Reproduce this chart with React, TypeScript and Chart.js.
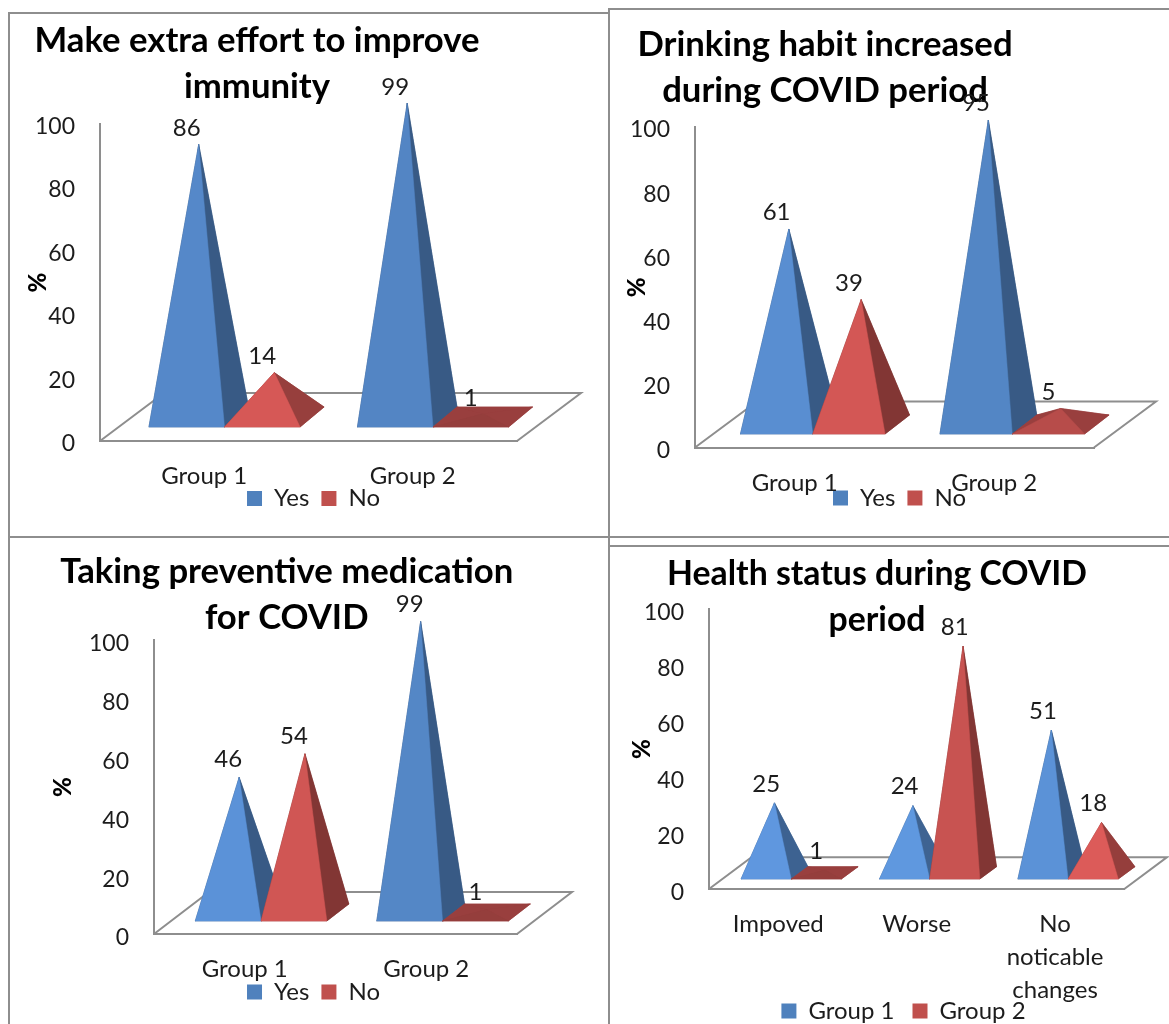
import React, { useEffect, useRef } from "react";
import { Chart, BarController, registerables } from "chart.js";

// Survey results, in percent
const groupLabels = ["Group 1", "Group 2"];
const yesNoLabels = ["Yes", "No"];
const groupSeriesLabels = ["Group 1", "Group 2"];
const statusLabels = ["Impoved", "Worse", ["No", "noticable", "changes"]];

const immunityYes = [86, 99];
const immunityNo = [14, 1];
const drinkingYes = [61, 95];
const drinkingNo = [39, 5];
const medicationYes = [46, 99];
const medicationNo = [54, 1];
const statusGroup1 = [25, 24, 51];
const statusGroup2 = [1, 81, 18];

const immunityTitle = ["Make extra effort to improve", "immunity"];
const drinkingTitle = ["Drinking habit increased", "during COVID period"];
const medicationTitle = ["Taking preventive medication", "for COVID"];
const statusTitle = ["Health status during COVID", "period"];

const yTicks = { min: 0, max: 100, step: 20 };

const FONT = "Lato";
const BLUE = "#5385c4";
const RED = "#bf4f4d";
const LEGEND_BLUE = "#4f81bd";
const LEGEND_RED = "#c0504d";
const LINE = "#8e8e8e";
const INK = "#1c1c1c";

type Rgb = [number, number, number];
const parseHex = (c: string): Rgb => [
  parseInt(c.slice(1, 3), 16),
  parseInt(c.slice(3, 5), 16),
  parseInt(c.slice(5, 7), 16),
];
const scaled = (c: string, k: number) => {
  const [r, g, b] = parseHex(c);
  const f = (v: number) => Math.min(255, Math.round(v * k));
  return `rgb(${f(r)},${f(g)},${f(b)})`;
};

// Faces catch less light when the pyramid is nearly flat or very steep.
const frontLight = (h: number) => {
  if (h <= 3.5) return 0.78;
  if (h < 16) return 0.78 + ((h - 3.5) / 12.5) * 0.18;
  if (h < 50) return 0.96 + ((h - 16) / 34) * 0.19;
  return Math.max(1, 1.15 - ((h - 50) / 263) * 0.15);
};
const sideLight = (h: number) => 0.68 + 0.12 * Math.max(0, Math.min(1, (100 - h) / 60));

// Bar controller that paints each bar as a pyramid standing on a perspective floor.
class PyramidController extends BarController {
  static id = "pyramid";

  draw() {
    // Datasets are painted back to front by hand, so later series overlap earlier ones.
    if (this.index !== 0) return;
    const chart = this.chart;
    const ctx = chart.ctx;
    const g = chart.options.plugins.floor;
    const poly = (pts: number[][], fill: string) => {
      ctx.beginPath();
      pts.forEach(([x, y], i) => (i ? ctx.lineTo(x, y) : ctx.moveTo(x, y)));
      ctx.closePath();
      ctx.fillStyle = fill;
      ctx.strokeStyle = fill;
      ctx.lineWidth = 0.5;
      ctx.fill();
      ctx.stroke();
    };
    ctx.save();
    chart.data.datasets.forEach((ds: any, di: number) => {
      const meta = chart.getDatasetMeta(di);
      meta.data.forEach((bar: any) => {
        const { x, y, base, width } = bar.getProps(["x", "y", "base", "width"], true);
        const left = x - width / 2 + g.frontDx;
        const right = x + width / 2 + g.frontDx;
        const fy = base - g.frontDy;
        const by = base - g.backDy;
        const bdx = g.backDx - g.frontDx;
        const apexX = x + (g.frontDx + g.backDx) / 2;
        const apexY = y - (g.frontDy + g.backDy) / 2;
        const h = base - y;
        const color = ds.faceColor;
        const fl = [left, fy];
        const fr = [right, fy];
        const bl = [left + bdx, by];
        const br = [right + bdx, by];
        const apex = [apexX, apexY];
        const side = scaled(color, sideLight(h));
        poly([fl, fr, br, bl], side);
        poly([fl, bl, apex], side);
        poly([bl, br, apex], side);
        poly([fr, br, apex], side);
        poly([fl, fr, apex], scaled(color, frontLight(h)));
      });
    });
    ctx.fillStyle = INK;
    ctx.font = `24px ${FONT}`;
    ctx.textAlign = "center";
    ctx.textBaseline = "middle";
    chart.data.datasets.forEach((ds: any, di: number) => {
      chart.getDatasetMeta(di).data.forEach((bar: any, i: number) => {
        const { x, y } = bar.getProps(["x", "y"], true);
        const apexY = y - (g.frontDy + g.backDy) / 2;
        ctx.fillText(String(ds.data[i]), x + g.frontDx, apexY - g.labelGap);
      });
    });
    ctx.restore();
  }
}

// Draws the floor outline and moves the title and legend to their slots.
const floorPlugin = {
  id: "floor",
  afterLayout(chart: any, _args: any, opts: any) {
    const t = chart.titleBlock;
    const lh = opts.titleLine;
    t.left = opts.titleX - 300;
    t.right = opts.titleX + 300;
    t.top = opts.titleY - lh / 2;
    t.bottom = t.top + lh * 2;
    const l = chart.legend;
    const w = l.width;
    const h = l.height;
    l.left = opts.legendX - w / 2;
    l.right = l.left + w;
    l.top = opts.legendY - h / 2;
    l.bottom = l.top + h;
    // Multi-line category labels may run past the slot reserved for the axis.
    chart.scales.x.bottom = chart.height;
  },
  beforeDatasetsDraw(chart: any, _args: any, opts: any) {
    const { left, right, bottom } = chart.chartArea;
    const ctx = chart.ctx;
    ctx.save();
    ctx.strokeStyle = LINE;
    ctx.lineWidth = 2;
    ctx.beginPath();
    ctx.moveTo(left, bottom);
    ctx.lineTo(left + opts.depthX, bottom - opts.depthY);
    ctx.lineTo(right + opts.depthX, bottom - opts.depthY);
    ctx.lineTo(right, bottom);
    ctx.stroke();
    ctx.restore();
  },
};

Chart.register(...registerables, PyramidController, floorPlugin);

type PanelGeometry = {
  box: number[];
  plot: number[];
  depth: number[];
  front: number[];
  back: number[];
  title: number[];
  titleSize: number;
  legend: number[];
  legendGap: number;
  percentX: number;
  labelGap: number;
  tickShift: number;
};

const immunityLayout: PanelGeometry = {
  box: [9, 14, 598, 522],
  plot: [100, 517, 124, 441],
  depth: [64, 48],
  front: [20.25, 14],
  back: [44.25, 34],
  title: [257, 41],
  titleSize: 34.7,
  legend: [313.5, 497.5],
  legendGap: 12,
  percentX: 38,
  labelGap: 16,
  tickShift: 2.5,
};
const drinkingLayout: PanelGeometry = {
  box: [609, 9, 560, 527],
  plot: [695, 1094, 127, 447.5],
  depth: [62, 46],
  front: [18, 13.5],
  back: [42.5, 32.5],
  title: [825, 45],
  titleSize: 34.7,
  legend: [899.5, 497],
  legendGap: 12,
  percentX: 637,
  labelGap: 16.5,
  tickShift: 3,
};
const medicationLayout: PanelGeometry = {
  box: [9, 538, 598, 486],
  plot: [154, 517, 640, 934],
  depth: [55, 42],
  front: [16.3, 13],
  back: [38.3, 30],
  title: [286.7, 572],
  titleSize: 34.7,
  legend: [313.5, 991],
  legendGap: 12,
  percentX: 63,
  labelGap: 17.5,
  tickShift: 4,
};
const statusLayout: PanelGeometry = {
  box: [609, 546, 560, 478],
  plot: [709, 1124.3, 609, 889],
  depth: [42.5, 31.7],
  front: [13, 10],
  back: [29.7, 22.3],
  title: [877, 574],
  titleSize: 33.8,
  legend: [903.5, 1007],
  legendGap: 18,
  percentX: 642.5,
  labelGap: 19,
  tickShift: 4,
};

const TITLE_LINE = 46;

function PyramidPanel({ geometry, title, categories, seriesNames, first, second }: any) {
  const ref = useRef<HTMLCanvasElement>(null);
  const [bx, by, bw, bh] = geometry.box;
  const [pl, pr, pt, pb] = geometry.plot;

  useEffect(() => {
    const chart = new Chart(ref.current as HTMLCanvasElement, {
      type: "pyramid" as any,
      data: {
        labels: categories,
        datasets: [
          { label: seriesNames[0], data: first, backgroundColor: LEGEND_BLUE, faceColor: BLUE, clip: false },
          { label: seriesNames[1], data: second, backgroundColor: LEGEND_RED, faceColor: RED, clip: false },
        ] as any,
      },
      options: {
        responsive: false,
        animation: false,
        events: [],
        categoryPercentage: 0.725,
        barPercentage: 1,
        layout: { padding: { top: pt - by, left: 0, right: bx + bw - pr, bottom: 0 } },
        scales: {
          x: {
            type: "category",
            offset: true,
            grid: { display: false, drawTicks: false },
            border: { display: true, color: LINE, width: 2 },
            ticks: {
              color: INK,
              autoSkip: false,
              maxRotation: 0,
              padding: 19,
              font: { family: FONT, size: 24, lineHeight: 33 / 24 },
            },
            afterFit: (s: any) => {
              s.height = by + bh - pb - s.chart.legend.height;
            },
          },
          y: {
            min: yTicks.min,
            max: yTicks.max,
            grid: { display: false, drawTicks: false },
            border: { display: true, color: LINE, width: 2 },
            ticks: {
              stepSize: yTicks.step,
              color: INK,
              padding: 25,
              labelOffset: geometry.tickShift,
              font: { family: FONT, size: 23 },
            },
            title: {
              display: true,
              text: "%",
              color: "#000000",
              font: { family: FONT, size: 24, weight: "900" },
              padding: { top: geometry.percentX - bx - 14.4, bottom: 0 },
            },
            afterFit: (s: any) => {
              s.width = pl - bx;
            },
          },
        },
        plugins: {
          title: {
            display: true,
            text: title,
            color: "#000000",
            font: {
              family: FONT,
              size: geometry.titleSize,
              weight: "bold",
              lineHeight: TITLE_LINE / geometry.titleSize,
            },
            padding: { top: 0, bottom: -2 * TITLE_LINE },
          },
          legend: {
            display: true,
            position: "bottom",
            labels: {
              color: INK,
              boxWidth: 15,
              boxHeight: 15,
              padding: geometry.legendGap,
              font: { family: FONT, size: 24 },
            },
          },
          tooltip: { enabled: false },
          floor: {
            depthX: geometry.depth[0],
            depthY: geometry.depth[1],
            frontDx: geometry.front[0],
            frontDy: geometry.front[1],
            backDx: geometry.back[0],
            backDy: geometry.back[1],
            labelGap: geometry.labelGap,
            titleX: geometry.title[0] - bx,
            titleY: geometry.title[1] - by,
            titleLine: TITLE_LINE,
            legendX: geometry.legend[0] - bx,
            legendY: geometry.legend[1] - by,
          },
        } as any,
      } as any,
    });
    return () => chart.destroy();
  }, []);

  return (
    <canvas
      ref={ref}
      width={bw}
      height={bh}
      style={{ position: "absolute", left: bx, top: by, width: bw, height: bh, display: "block" }}
    />
  );
}

const rule = (left: number, top: number, width: number, height: number) => (
  <div style={{ position: "absolute", left, top, width, height, background: LINE }} />
);

export default function App() {
  return (
    <div
      style={{
        position: "absolute",
        left: 0,
        top: 0,
        width: 1169,
        height: 1024,
        overflow: "hidden",
        background: "#ffffff",
      }}
    >
      <PyramidPanel
        geometry={immunityLayout}
        title={immunityTitle}
        categories={groupLabels}
        seriesNames={yesNoLabels}
        first={immunityYes}
        second={immunityNo}
      />
      <PyramidPanel
        geometry={drinkingLayout}
        title={drinkingTitle}
        categories={groupLabels}
        seriesNames={yesNoLabels}
        first={drinkingYes}
        second={drinkingNo}
      />
      <PyramidPanel
        geometry={medicationLayout}
        title={medicationTitle}
        categories={groupLabels}
        seriesNames={yesNoLabels}
        first={medicationYes}
        second={medicationNo}
      />
      <PyramidPanel
        geometry={statusLayout}
        title={statusTitle}
        categories={statusLabels}
        seriesNames={groupSeriesLabels}
        first={statusGroup1}
        second={statusGroup2}
      />
      {rule(8, 12, 601, 2)}
      {rule(608, 8, 561, 2)}
      {rule(8, 536, 1161, 2)}
      {rule(608, 545, 561, 2)}
      {rule(8, 12, 2, 1012)}
      {rule(608, 8, 2, 1016)}
    </div>
  );
}
